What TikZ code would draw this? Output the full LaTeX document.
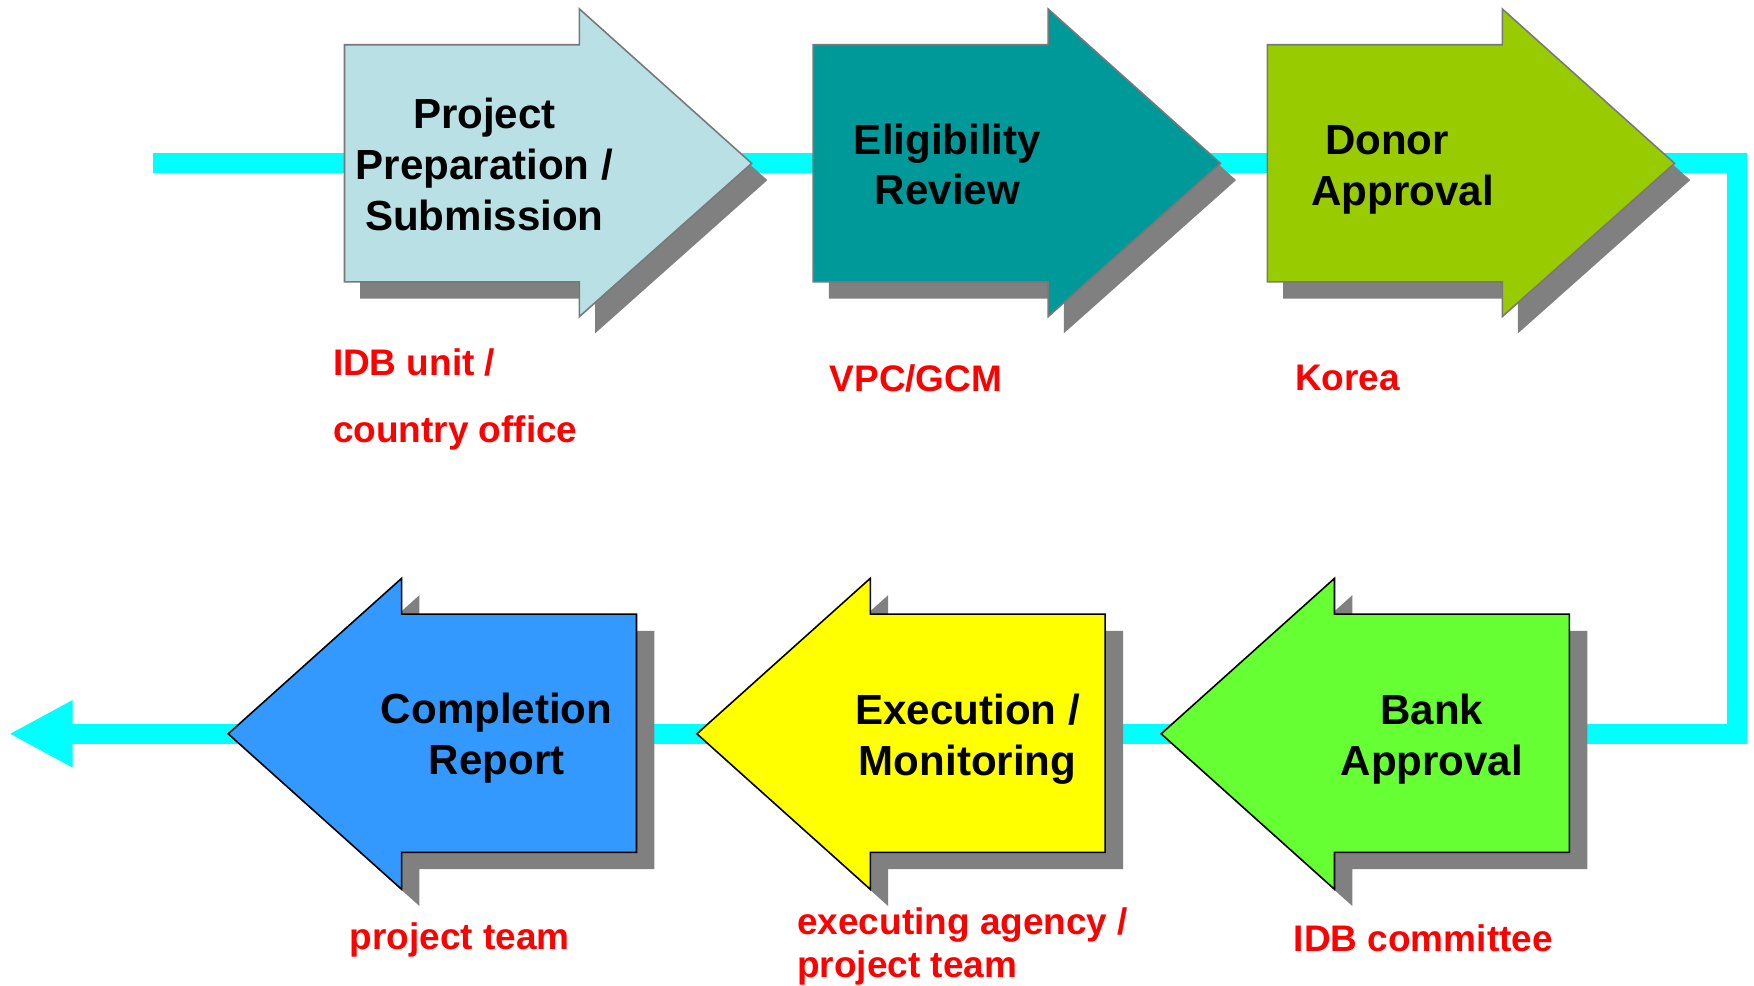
\documentclass[tikz,border=0pt]{standalone}
\usepackage{fontspec}
\setmainfont{Liberation Sans}
\usetikzlibrary{arrows.meta}
\definecolor{flowcyan}{RGB}{0,255,255}
\definecolor{dropgray}{RGB}{128,128,128}
\definecolor{edgegray}{RGB}{120,120,120}
\definecolor{actorred}{RGB}{255,0,0}
\definecolor{prepblue}{RGB}{185,224,228}
\definecolor{reviewteal}{RGB}{0,153,153}
\definecolor{donorgreen}{RGB}{153,204,0}
\definecolor{reportblue}{RGB}{51,153,255}
\definecolor{execyellow}{RGB}{255,255,0}
\definecolor{bankgreen}{RGB}{102,255,51}
\newcommand{\stagefont}{\fontsize{10.7}{12.9}\selectfont\bfseries}
\newcommand{\actorfont}{\fontsize{9.4}{11.1}\selectfont\bfseries}
\begin{document}
\begin{tikzpicture}[x=0.01cm, y=-0.01cm,
    flow/.style={draw=flowcyan, line width=0.18cm, line join=miter},
    drop/.style={fill=dropgray},
    stage/.style={font=\stagefont, align=center},
    actor/.style={font=\actorfont, text=actorred, align=left, anchor=west, inner sep=0pt}]
  \useasboundingbox (0,0) rectangle (1568,881);
  % cyan process line
  \coordinate (in) at (137,146);
  \coordinate (turnA) at (1553,146);
  \coordinate (turnB) at (1553,656);
  \coordinate (out) at (8,656);
  \draw[flow, -{Triangle[length=0.57cm, width=0.56cm]}] (in) -- (turnA) -- (turnB) -- (out);
  % upper row, pointing right
  \foreach \x/\col in {308/prepblue, 727/reviewteal, 1133/donorgreen} {
    \fill[drop] (\x+14,55) -- ++(210,0) -- ++(0,-32) -- ++(154,138) -- ++(-154,137) -- ++(0,-31) -- ++(-210,0) -- cycle;
    \filldraw[fill=\col, draw=edgegray] (\x,40) -- ++(210,0) -- ++(0,-32) -- ++(154,138) -- ++(-154,137) -- ++(0,-31) -- ++(-210,0) -- cycle;
  }
  % lower row, pointing left
  \foreach \x/\col in {569/reportblue, 988/execyellow, 1403/bankgreen} {
    \fill[drop] (\x+16,564) -- ++(-210,0) -- ++(0,-32) -- ++(-155,139) -- ++(155,139) -- ++(0,-33) -- ++(210,0) -- cycle;
    \filldraw[fill=\col, draw=black] (\x,549) -- ++(-210,0) -- ++(0,-32) -- ++(-155,139) -- ++(155,139) -- ++(0,-33) -- ++(210,0) -- cycle;
  }
  % stage names
  \node[stage] (prep) at (433,147) {Project\\Preparation /\\Submission};
  \node[stage] (review) at (847,147) {Eligibility\\Review};
  \node[stage] (donor) at (1254,152) {Donor\hspace*{8pt}\\Approval};
  \node[stage] (report) at (444,660) {Completion\\Report};
  \node[stage] (exec) at (865,661) {Execution /\\Monitoring};
  \node[stage] (bank) at (1280,661) {Bank\\Approval};
  % who is in charge
  \node[actor, font=\fontsize{9.4}{17.1}\selectfont\bfseries] (unit) at (297,357) {IDB unit /\\country office};
  \node[actor] (vpc) at (741,338) {VPC/GCM};
  \node[actor] (korea) at (1157,338) {Korea};
  \node[actor] (team) at (312,840) {project team};
  \node[actor] (agency) at (712,846) {executing agency /\\project team};
  \node[actor] (committee) at (1156,839) {IDB committee};
\end{tikzpicture}
\end{document}
